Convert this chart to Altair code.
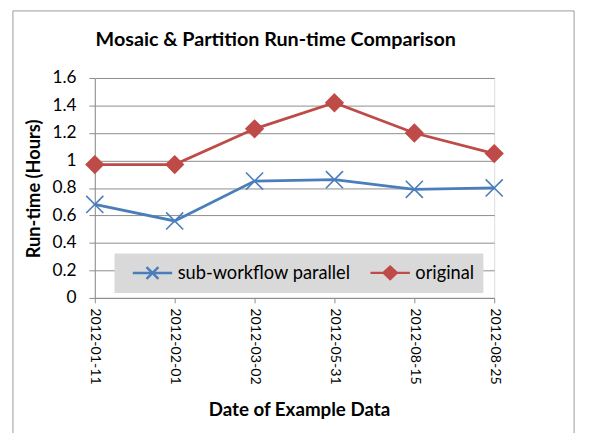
import altair as alt
import pandas as pd

dates = ["2012-01-11", "2012-02-01", "2012-03-02", "2012-05-31", "2012-08-15", "2012-08-25"]
sub_workflow = [0.68, 0.56, 0.85, 0.86, 0.79, 0.80]
original = [0.97, 0.97, 1.23, 1.42, 1.20, 1.05]
series_names = ["sub-workflow parallel", "original"]
series_colors = ["#4a7ebb", "#be4b48"]

rows = []
for d, v in zip(dates, sub_workflow):
    rows.append({"date": d, "value": v, "series": series_names[0]})
for d, v in zip(dates, original):
    rows.append({"date": d, "value": v, "series": series_names[1]})
df = pd.DataFrame(rows)

FONT = "Lato"
GRID = "#8c8c8c"

x_enc = alt.X("date:N", sort=dates,
              scale=alt.Scale(type="point", padding=0),
              axis=alt.Axis(title="Date of Example Data", labelAngle=90, labelFont=FONT,
                            labelFontSize=14.4, labelColor="black", labelPadding=5,
                            tickSize=5, tickColor=GRID, domainColor=GRID, grid=False,
                            titleFont=FONT, titleFontSize=19, titleFontWeight="bold",
                            titleColor="black", titleBaseline="alphabetic",
                            titleY=119, titleX=207))
y_enc = alt.Y("value:Q", scale=alt.Scale(domain=[0, 1.6], nice=False),
              axis=alt.Axis(title="Run-time (Hours)", values=[0, 0.2, 0.4, 0.6, 0.8, 1, 1.2, 1.4, 1.6],
                            labelExpr="datum.value == 1 ? '1' : datum.value == 0 ? '0' : format(datum.value, '.1f')",
                            labelFont=FONT, labelFontSize=17.5, labelColor="black", labelPadding=13,
                            tickSize=6, tickColor=GRID, domainColor=GRID, gridColor=GRID,
                            titleFont=FONT, titleFontSize=18.5, titleFontWeight="bold",
                            titleColor="black", titleX=-52, titleY=112))

base = alt.Chart(df)

lines = base.mark_line(strokeWidth=2.8).encode(
    x=x_enc, y=y_enc,
    color=alt.Color("series:N", scale=alt.Scale(domain=series_names, range=series_colors), legend=None),
)

marker_paths = ["M-1,-1L1,1M-1,1L1,-1", "M0,-1L1,0L0,1L-1,0Z"]
markers = base.mark_point(size=300, strokeWidth=1.6, opacity=1).encode(
    x=x_enc, y=y_enc,
    fill=alt.Fill("series:N", scale=alt.Scale(domain=series_names, range=series_colors), legend=None),
    stroke=alt.Stroke("series:N", scale=alt.Scale(domain=series_names, range=series_colors), legend=None),
    shape=alt.Shape("series:N", scale=alt.Scale(domain=series_names, range=marker_paths), legend=None),
)

# legend symbols: a short line with the series marker in its middle
legend_paths = ["M-0.11,0L4.33,0M1.44,-0.67L2.78,0.67M1.44,0.67L2.78,-0.67",
                "M-0.11,0L4.33,0M2.11,-0.7L2.85,0L2.11,0.7L1.37,0Z"]
leg = alt.Legend(orient="none", legendX=20, legendY=178, direction="horizontal",
                 fillColor="#d9d9d9", padding=9, title=None, labelFont=FONT,
                 labelFontSize=18.5, labelColor="black", symbolSize=324,
                 symbolStrokeWidth=2.5, symbolOpacity=1, labelOffset=34,
                 columnPadding=10, labelLimit=0)
legend_layer = base.mark_point(opacity=0).encode(
    x=x_enc, y=y_enc,
    fill=alt.Fill("series:N", scale=alt.Scale(domain=series_names, range=series_colors), legend=leg),
    stroke=alt.Stroke("series:N", scale=alt.Scale(domain=series_names, range=series_colors), legend=leg),
    shape=alt.Shape("series:N", scale=alt.Scale(domain=series_names, range=legend_paths), legend=leg),
)

frame = alt.Chart(pd.DataFrame({"a": [0]})).mark_rect(fill=None, stroke="#9a9a9a", strokeWidth=1).encode(
    x=alt.value(-83), x2=alt.value(486), y=alt.value(-68), y2=alt.value(400)
)

chart = alt.layer(frame, lines, markers, legend_layer).resolve_scale(
    shape="independent", fill="independent", stroke="independent"
).properties(
    width=405, height=223,
    title=alt.TitleParams("Mosaic & Partition Run-time Comparison", font=FONT, fontSize=20,
                          fontWeight="bold", color="black", anchor="middle", frame="group",
                          dx=-19, baseline="alphabetic", offset=-56.5),
    autosize=alt.AutoSizeParams(type="none"),
    padding={"left": 88, "top": 68, "right": 88, "bottom": 134},
).configure_view(stroke=None).configure(background="white")

chart.save("out.html", embed_options={"renderer": "svg", "actions": False})
